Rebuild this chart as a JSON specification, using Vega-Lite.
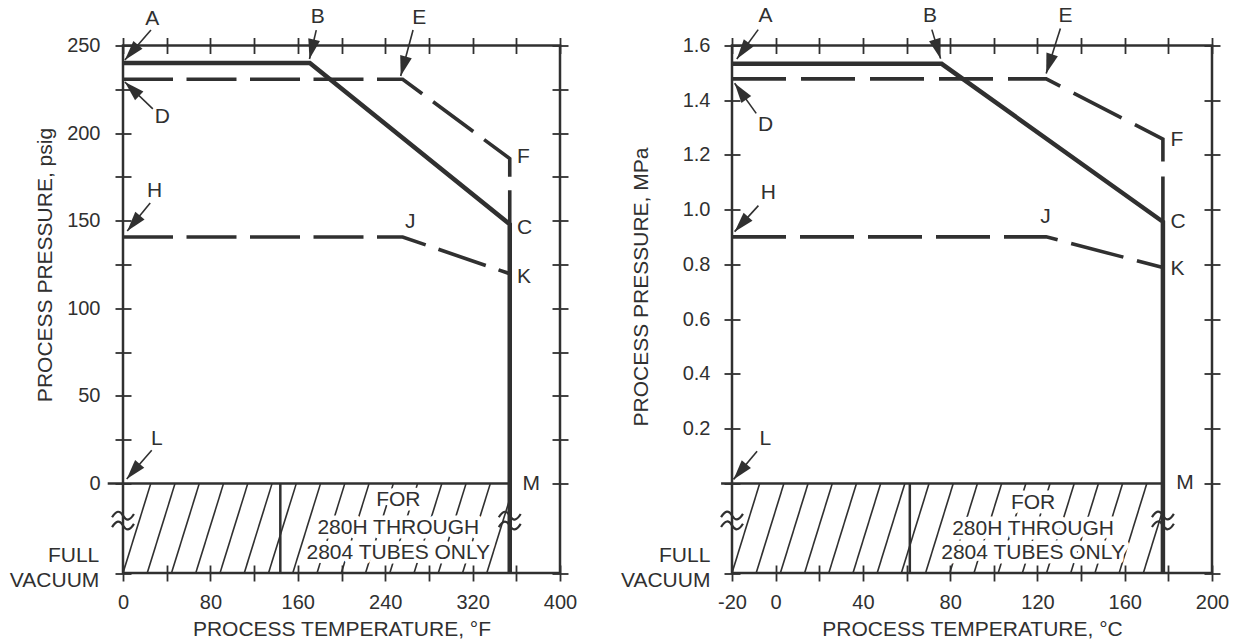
{
  "$schema": "https://vega.github.io/schema/vega-lite/v6.json",
  "background": "white",
  "padding": {"left": 8, "top": 3.5, "right": 0, "bottom": 0},
  "bounds": "flush",
  "spacing": 172,
  "config": {
    "view": {"stroke": "#303030", "strokeWidth": 2.5},
    "axis": {
      "domain": false, "grid": false, "offset": -8, "tickSize": 16, "tickColor": "#303030", "tickWidth": 1.8,
      "labelFont": "Liberation Sans", "labelFontSize": 20, "labelColor": "#303030", "labelFlush": false, "labelOverlap": false,
      "titleFont": "Liberation Sans", "titleFontSize": 21, "titleFontWeight": "normal", "titleColor": "#303030"
    },
    "text": {"font": "Liberation Sans", "fontSize": 21, "color": "#303030"}
  },
  "datasets": {
    "curveL": [
      {"s": "solid", "o": 1, "x": 0, "y": 240}, {"s": "solid", "o": 2, "x": 171, "y": 240}, {"s": "solid", "o": 3, "x": 354, "y": 148}, {"s": "solid", "o": 4, "x": 354, "y": -51},
      {"s": "dashD", "o": 1, "x": 0, "y": 230.7}, {"s": "dashD", "o": 2, "x": 256, "y": 230.7}, {"s": "dashD", "o": 3, "x": 354, "y": 185.5}, {"s": "dashD", "o": 4, "x": 354, "y": 148},
      {"s": "dashH", "o": 1, "x": 0, "y": 140.7}, {"s": "dashH", "o": 2, "x": 256, "y": 140.7}, {"s": "dashH", "o": 3, "x": 354, "y": 119.8}
    ],
    "curveR": [
      {"s": "solid", "o": 1, "x": -20, "y": 1.533}, {"s": "solid", "o": 2, "x": 76.1, "y": 1.533}, {"s": "solid", "o": 3, "x": 177.5, "y": 0.956}, {"s": "solid", "o": 4, "x": 177.5, "y": -0.327},
      {"s": "dashD", "o": 1, "x": -20, "y": 1.478}, {"s": "dashD", "o": 2, "x": 124, "y": 1.478}, {"s": "dashD", "o": 3, "x": 177.5, "y": 1.258}, {"s": "dashD", "o": 4, "x": 177.5, "y": 0.956},
      {"s": "dashH", "o": 1, "x": -20, "y": 0.901}, {"s": "dashH", "o": 2, "x": 124, "y": 0.901}, {"s": "dashH", "o": 3, "x": 177.5, "y": 0.789}
    ],
    "hatchL": [
      {"id": 0, "o": 1, "x": 0, "y": -51}, {"id": 0, "o": 2, "x": 25.4, "y": 0},
      {"id": 1, "o": 1, "x": 22.2, "y": -51}, {"id": 1, "o": 2, "x": 47.6, "y": 0},
      {"id": 2, "o": 1, "x": 44.4, "y": -51}, {"id": 2, "o": 2, "x": 69.8, "y": 0},
      {"id": 3, "o": 1, "x": 66.6, "y": -51}, {"id": 3, "o": 2, "x": 92, "y": 0},
      {"id": 4, "o": 1, "x": 88.8, "y": -51}, {"id": 4, "o": 2, "x": 114.2, "y": 0},
      {"id": 5, "o": 1, "x": 111, "y": -51}, {"id": 5, "o": 2, "x": 136.4, "y": 0},
      {"id": 6, "o": 1, "x": 133.2, "y": -51}, {"id": 6, "o": 2, "x": 158.6, "y": 0},
      {"id": 7, "o": 1, "x": 155.4, "y": -51}, {"id": 7, "o": 2, "x": 180.8, "y": 0},
      {"id": 8, "o": 1, "x": 177.6, "y": -51}, {"id": 8, "o": 2, "x": 203, "y": 0},
      {"id": 9, "o": 1, "x": 199.8, "y": -51}, {"id": 9, "o": 2, "x": 225.2, "y": 0},
      {"id": 10, "o": 1, "x": 222, "y": -51}, {"id": 10, "o": 2, "x": 247.4, "y": 0},
      {"id": 11, "o": 1, "x": 244.2, "y": -51}, {"id": 11, "o": 2, "x": 269.6, "y": 0},
      {"id": 12, "o": 1, "x": 266.4, "y": -51}, {"id": 12, "o": 2, "x": 291.8, "y": 0},
      {"id": 13, "o": 1, "x": 288.6, "y": -51}, {"id": 13, "o": 2, "x": 314, "y": 0},
      {"id": 14, "o": 1, "x": 310.8, "y": -51}, {"id": 14, "o": 2, "x": 336.2, "y": 0},
      {"id": 15, "o": 1, "x": 333, "y": -51}, {"id": 15, "o": 2, "x": 354, "y": -8.8}
    ],
    "hatchR": [
      {"id": 0, "o": 1, "x": -20, "y": -0.327}, {"id": 0, "o": 2, "x": -7.31, "y": 0},
      {"id": 1, "o": 1, "x": -8.91, "y": -0.327}, {"id": 1, "o": 2, "x": 3.78, "y": 0},
      {"id": 2, "o": 1, "x": 2.18, "y": -0.327}, {"id": 2, "o": 2, "x": 14.87, "y": 0},
      {"id": 3, "o": 1, "x": 13.27, "y": -0.327}, {"id": 3, "o": 2, "x": 25.96, "y": 0},
      {"id": 4, "o": 1, "x": 24.36, "y": -0.327}, {"id": 4, "o": 2, "x": 37.05, "y": 0},
      {"id": 5, "o": 1, "x": 35.45, "y": -0.327}, {"id": 5, "o": 2, "x": 48.14, "y": 0},
      {"id": 6, "o": 1, "x": 46.54, "y": -0.327}, {"id": 6, "o": 2, "x": 59.23, "y": 0},
      {"id": 7, "o": 1, "x": 57.63, "y": -0.327}, {"id": 7, "o": 2, "x": 70.32, "y": 0},
      {"id": 8, "o": 1, "x": 68.72, "y": -0.327}, {"id": 8, "o": 2, "x": 81.41, "y": 0},
      {"id": 9, "o": 1, "x": 79.81, "y": -0.327}, {"id": 9, "o": 2, "x": 92.5, "y": 0},
      {"id": 10, "o": 1, "x": 90.9, "y": -0.327}, {"id": 10, "o": 2, "x": 103.59, "y": 0},
      {"id": 11, "o": 1, "x": 101.99, "y": -0.327}, {"id": 11, "o": 2, "x": 114.68, "y": 0},
      {"id": 12, "o": 1, "x": 113.08, "y": -0.327}, {"id": 12, "o": 2, "x": 125.77, "y": 0},
      {"id": 13, "o": 1, "x": 124.17, "y": -0.327}, {"id": 13, "o": 2, "x": 136.86, "y": 0},
      {"id": 14, "o": 1, "x": 135.26, "y": -0.327}, {"id": 14, "o": 2, "x": 147.95, "y": 0},
      {"id": 15, "o": 1, "x": 146.35, "y": -0.327}, {"id": 15, "o": 2, "x": 159.04, "y": 0},
      {"id": 16, "o": 1, "x": 157.44, "y": -0.327}, {"id": 16, "o": 2, "x": 170.13, "y": 0},
      {"id": 17, "o": 1, "x": 168.53, "y": -0.327}, {"id": 17, "o": 2, "x": 177.5, "y": -0.096}
    ],
    "segL": [
      {"x": 144, "y": -51, "x2": 144, "y2": 0},
      {"x": -14, "y": 0, "x2": 354, "y2": 0}
    ],
    "segR": [
      {"x": 61.5, "y": -0.327, "x2": 61.5, "y2": 0},
      {"x": -25, "y": 0, "x2": 177.5, "y2": 0}
    ],
    "noteL": [
      {"x": 252, "y": -9.6, "t": "FOR"},
      {"x": 252, "y": -25.1, "t": "280H THROUGH"},
      {"x": 252, "y": -39.8, "t": "2804 TUBES ONLY"}
    ],
    "noteR": [
      {"x": 118, "y": -0.0707, "t": "FOR"},
      {"x": 118, "y": -0.1646, "t": "280H THROUGH"},
      {"x": 118, "y": -0.2535, "t": "2804 TUBES ONLY"}
    ],
    "arrL": [
      {"x": 1.7, "y": 241.7, "x2": 25.6, "y2": 258.8, "ang": -139.1},
      {"x": 170.7, "y": 242.3, "x2": 176.9, "y2": 258.8, "ang": -166.6},
      {"x": 254.2, "y": 232.6, "x2": 265.5, "y2": 258.8, "ang": -164.7},
      {"x": 1.7, "y": 229.2, "x2": 27.3, "y2": 213.8, "ang": -45.9},
      {"x": 3.9, "y": 144.1, "x2": 24.9, "y2": 160.1, "ang": -140.7},
      {"x": 3.4, "y": 2.6, "x2": 26.3, "y2": 19.1, "ang": -139.6}
    ],
    "arrR": [
      {"x": -17.8, "y": 1.551, "x2": -8.0, "y2": 1.658, "ang": -143.6},
      {"x": 75.6, "y": 1.552, "x2": 71.6, "y2": 1.658, "ang": 163.3},
      {"x": 124, "y": 1.498, "x2": 130.5, "y2": 1.662, "ang": -162.6},
      {"x": -18.8, "y": 1.462, "x2": -8.9, "y2": 1.352, "ang": -35.8},
      {"x": -18.8, "y": 0.92, "x2": -7.9, "y2": 1.015, "ang": -137.8},
      {"x": -19.3, "y": 0.015, "x2": -8.5, "y2": 0.118, "ang": -140.1}
    ],
    "lblL": [
      {"x": 26.7, "y": 265.1, "t": "A"}, {"x": 178.2, "y": 266.2, "t": "B"}, {"x": 271.1, "y": 265.7, "t": "E"},
      {"x": 36.1, "y": 209.2, "t": "D"}, {"x": 29, "y": 167, "t": "H"}, {"x": 263, "y": 149.3, "t": "J"}, {"x": 31, "y": 25.6, "t": "L"}
    ],
    "lblL2": [
      {"x": 360.6, "y": 186.4, "t": "F"}, {"x": 360.6, "y": 145.8, "t": "C"}, {"x": 360.6, "y": 117.9, "t": "K"}, {"x": 365.7, "y": 0, "t": "M"}
    ],
    "lblR": [
      {"x": -4.65, "y": 1.706, "t": "A"}, {"x": 70.7, "y": 1.706, "t": "B"}, {"x": 132.8, "y": 1.706, "t": "E"},
      {"x": -4.65, "y": 1.31, "t": "D"}, {"x": -3.4, "y": 1.06, "t": "H"}, {"x": 123.7, "y": 0.974, "t": "J"}, {"x": -4.7, "y": 0.162, "t": "L"}
    ],
    "lblR2": [
      {"x": 181, "y": 1.255, "t": "F"}, {"x": 181, "y": 0.956, "t": "C"}, {"x": 181, "y": 0.785, "t": "K"}, {"x": 183.6, "y": 0, "t": "M"}
    ],
    "brkL": [{"x": 0, "y": -21.4}, {"x": 354, "y": -21.4}],
    "brkR": [{"x": -20, "y": -0.137}, {"x": 177.5, "y": -0.137}],
    "vacL": [{"x": -21.7, "y": -41.4, "t": "FULL\nVACUUM"}],
    "vacR": [{"x": -29.9, "y": -0.265, "t": "FULL\nVACUUM"}]
  },
  "hconcat": [
    {
      "width": 437, "height": 527.5,
      "resolve": {"axis": {"x": "independent", "y": "independent"}},
      "encoding": {
        "x": {"field": "x", "type": "quantitative", "scale": {"domain": [0, 400], "nice": false, "zero": false}, "axis": null},
        "y": {"field": "y", "type": "quantitative", "scale": {"domain": [-51, 250], "nice": false, "zero": false}, "axis": null}
      },
      "layer": [
        {"data": {"name": "hatchL"}, "mark": {"type": "line", "strokeWidth": 1.6, "color": "#303030"},
         "encoding": {"detail": {"field": "id", "type": "nominal"}, "order": {"field": "o", "type": "quantitative"}}},
        {"data": {"name": "noteL"}, "mark": {"type": "text", "stroke": "white", "strokeWidth": 9, "fill": "white", "strokeJoin": "round", "baseline": "middle"},
         "encoding": {"text": {"field": "t"}}},
        {"data": {"name": "noteL"}, "mark": {"type": "text", "baseline": "middle"}, "encoding": {"text": {"field": "t"}}},
        {"data": {"name": "segL"}, "mark": {"type": "rule", "strokeWidth": 2.5, "color": "#303030"},
         "encoding": {"x2": {"field": "x2"}, "y2": {"field": "y2"}}},
        {"data": {"name": "curveL"}, "transform": [{"filter": "datum.s == 'solid'"}],
         "mark": {"type": "line", "strokeWidth": 4.5, "color": "#303030"},
         "encoding": {
           "order": {"field": "o", "type": "quantitative"},
           "x": {"field": "x", "type": "quantitative", "scale": {"domain": [0, 400], "nice": false, "zero": false},
                 "axis": {"orient": "bottom", "values": [0, 40, 80, 120, 160, 200, 240, 280, 320, 360, 400], "labelExpr": "datum.value % 80 == 0 ? datum.label : ''", "labelPadding": 11.5, "title": "PROCESS TEMPERATURE, °F", "titleY": 53}},
           "y": {"field": "y", "type": "quantitative", "scale": {"domain": [-51, 250], "nice": false, "zero": false},
                 "axis": {"orient": "left", "values": [-51, 0, 25, 50, 75, 100, 125, 150, 175, 200, 225, 250], "labelExpr": "datum.value >= 0 && datum.value % 50 == 0 ? datum.label : ''", "labelPadding": 15, "title": "PROCESS PRESSURE, psig", "titleX": -76, "titleY": 219}}
         }},
        {"data": {"name": "curveL"}, "transform": [{"filter": "datum.s == 'dashD'"}],
         "mark": {"type": "line", "strokeWidth": 3.6, "color": "#303030", "strokeDash": [50, 13.5]},
         "encoding": {
           "order": {"field": "o", "type": "quantitative"},
           "x": {"field": "x", "type": "quantitative", "scale": {"domain": [0, 400], "nice": false, "zero": false},
                 "axis": {"orient": "top", "values": [0, 40, 80, 120, 160, 200, 240, 280, 320, 360, 400], "labels": false, "title": null}},
           "y": {"field": "y", "type": "quantitative", "scale": {"domain": [-51, 250], "nice": false, "zero": false},
                 "axis": {"orient": "right", "values": [-51, 0, 25, 50, 75, 100, 125, 150, 175, 200, 225, 250], "labels": false, "title": null}}
         }},
        {"data": {"name": "curveL"}, "transform": [{"filter": "datum.s == 'dashH'"}],
         "mark": {"type": "line", "strokeWidth": 3.6, "color": "#303030", "strokeDash": [50, 13.5]},
         "encoding": {"order": {"field": "o", "type": "quantitative"}}},
        {"data": {"name": "arrL"}, "mark": {"type": "rule", "strokeWidth": 1.6, "color": "#303030"},
         "encoding": {"x2": {"field": "x2"}, "y2": {"field": "y2"}}},
        {"data": {"name": "arrL"}, "mark": {"type": "point", "shape": "M0,0L0.3,1L-0.3,1Z", "filled": true, "size": 1600, "color": "#303030", "opacity": 1, "strokeWidth": 0},
         "encoding": {"angle": {"field": "ang", "type": "quantitative", "scale": null}}},
        {"data": {"name": "brkL"}, "mark": {"type": "point", "shape": "M-1,-0.35C-0.6,-1 -0.3,-1 0,-0.5C0.3,0 0.6,0 1,-0.65M-1,0.55C-0.6,-0.1 -0.3,-0.1 0,0.4C0.3,0.9 0.6,0.9 1,0.25", "filled": false, "size": 480, "color": "#303030", "opacity": 1, "strokeWidth": 2.2}},
        {"data": {"name": "lblL"}, "mark": {"type": "text", "baseline": "middle", "align": "center"}, "encoding": {"text": {"field": "t"}}},
        {"data": {"name": "lblL2"}, "mark": {"type": "text", "baseline": "middle", "align": "left"}, "encoding": {"text": {"field": "t"}}},
        {"data": {"name": "vacL"}, "mark": {"type": "text", "baseline": "middle", "align": "right", "lineBreak": "\n", "lineHeight": 25}, "encoding": {"text": {"field": "t"}}}
      ]
    },
    {
      "width": 480, "height": 527.5,
      "resolve": {"axis": {"x": "independent", "y": "independent"}},
      "encoding": {
        "x": {"field": "x", "type": "quantitative", "scale": {"domain": [-20, 200], "nice": false, "zero": false}, "axis": null},
        "y": {"field": "y", "type": "quantitative", "scale": {"domain": [-0.327, 1.6], "nice": false, "zero": false}, "axis": null}
      },
      "layer": [
        {"data": {"name": "hatchR"}, "mark": {"type": "line", "strokeWidth": 1.6, "color": "#303030"},
         "encoding": {"detail": {"field": "id", "type": "nominal"}, "order": {"field": "o", "type": "quantitative"}}},
        {"data": {"name": "noteR"}, "mark": {"type": "text", "stroke": "white", "strokeWidth": 9, "fill": "white", "strokeJoin": "round", "baseline": "middle"},
         "encoding": {"text": {"field": "t"}}},
        {"data": {"name": "noteR"}, "mark": {"type": "text", "baseline": "middle"}, "encoding": {"text": {"field": "t"}}},
        {"data": {"name": "segR"}, "mark": {"type": "rule", "strokeWidth": 2.5, "color": "#303030"},
         "encoding": {"x2": {"field": "x2"}, "y2": {"field": "y2"}}},
        {"data": {"name": "curveR"}, "transform": [{"filter": "datum.s == 'solid'"}],
         "mark": {"type": "line", "strokeWidth": 4.5, "color": "#303030"},
         "encoding": {
           "order": {"field": "o", "type": "quantitative"},
           "x": {"field": "x", "type": "quantitative", "scale": {"domain": [-20, 200], "nice": false, "zero": false},
                 "axis": {"orient": "bottom", "values": [-20, 0, 20, 40, 60, 80, 100, 120, 140, 160, 180, 200], "labelExpr": "datum.value == -20 || datum.value % 40 == 0 ? ('' + datum.value) : ''", "labelPadding": 11.5, "title": "PROCESS TEMPERATURE, °C", "titleY": 53}},
           "y": {"field": "y", "type": "quantitative", "scale": {"domain": [-0.327, 1.6], "nice": false, "zero": false},
                 "axis": {"orient": "left", "values": [-0.327, 0, 0.2, 0.4, 0.6, 0.8, 1.0, 1.2, 1.4, 1.6], "labelExpr": "datum.value > 0.1 ? format(datum.value, '.1f') : ''", "labelPadding": 14, "title": "PROCESS PRESSURE, MPa", "titleX": -89, "titleY": 241}}
         }},
        {"data": {"name": "curveR"}, "transform": [{"filter": "datum.s == 'dashD'"}],
         "mark": {"type": "line", "strokeWidth": 3.6, "color": "#303030", "strokeDash": [54, 15]},
         "encoding": {
           "order": {"field": "o", "type": "quantitative"},
           "x": {"field": "x", "type": "quantitative", "scale": {"domain": [-20, 200], "nice": false, "zero": false},
                 "axis": {"orient": "top", "values": [-20, 0, 20, 40, 60, 80, 100, 120, 140, 160, 180, 200], "labels": false, "title": null}},
           "y": {"field": "y", "type": "quantitative", "scale": {"domain": [-0.327, 1.6], "nice": false, "zero": false},
                 "axis": {"orient": "right", "values": [-0.327, 0, 0.2, 0.4, 0.6, 0.8, 1.0, 1.2, 1.4, 1.6], "labels": false, "title": null}}
         }},
        {"data": {"name": "curveR"}, "transform": [{"filter": "datum.s == 'dashH'"}],
         "mark": {"type": "line", "strokeWidth": 3.6, "color": "#303030", "strokeDash": [54, 14]},
         "encoding": {"order": {"field": "o", "type": "quantitative"}}},
        {"data": {"name": "arrR"}, "mark": {"type": "rule", "strokeWidth": 1.6, "color": "#303030"},
         "encoding": {"x2": {"field": "x2"}, "y2": {"field": "y2"}}},
        {"data": {"name": "arrR"}, "mark": {"type": "point", "shape": "M0,0L0.3,1L-0.3,1Z", "filled": true, "size": 1600, "color": "#303030", "opacity": 1, "strokeWidth": 0},
         "encoding": {"angle": {"field": "ang", "type": "quantitative", "scale": null}}},
        {"data": {"name": "brkR"}, "mark": {"type": "point", "shape": "M-1,-0.35C-0.6,-1 -0.3,-1 0,-0.5C0.3,0 0.6,0 1,-0.65M-1,0.55C-0.6,-0.1 -0.3,-0.1 0,0.4C0.3,0.9 0.6,0.9 1,0.25", "filled": false, "size": 480, "color": "#303030", "opacity": 1, "strokeWidth": 2.2}},
        {"data": {"name": "lblR"}, "mark": {"type": "text", "baseline": "middle", "align": "center"}, "encoding": {"text": {"field": "t"}}},
        {"data": {"name": "lblR2"}, "mark": {"type": "text", "baseline": "middle", "align": "left"}, "encoding": {"text": {"field": "t"}}},
        {"data": {"name": "vacR"}, "mark": {"type": "text", "baseline": "middle", "align": "right", "lineBreak": "\n", "lineHeight": 25}, "encoding": {"text": {"field": "t"}}}
      ]
    }
  ]
}
